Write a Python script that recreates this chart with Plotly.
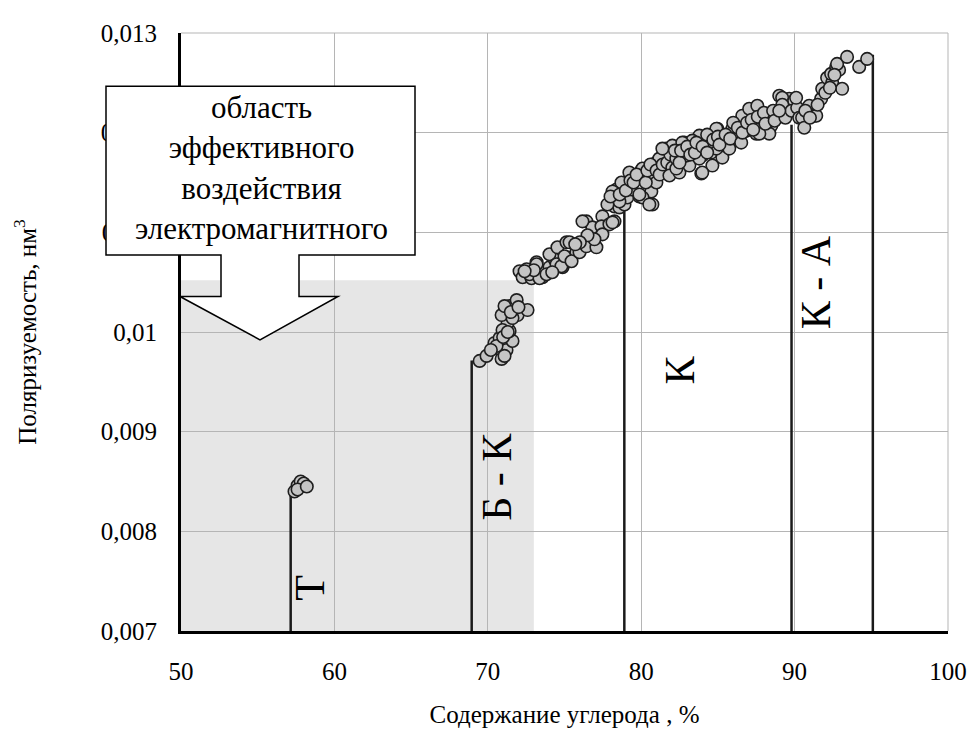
import plotly.graph_objects as go

# ---- data ----
carbon = [
    57.4, 57.6, 57.8, 58.0, 57.6, 58.2,
    69.47, 69.92, 70.44, 70.77, 70.96, 70.90, 71.22, 71.61, 71.42, 71.29, 70.90, 71.94, 72.59, 71.42,
    71.88, 71.09, 71.61, 70.96, 70.57, 71.09, 71.0, 71.3, 70.2, 71.5, 72.0,
    72.07, 72.27, 72.53, 72.85, 73.18, 73.57, 74.02, 74.35, 74.67, 75.13, 72.72, 73.37, 73.83, 74.87,
    73.18, 74.02, 74.48, 74.54, 75.13, 75.33, 75.78, 74.80, 75.00, 75.46, 75.33, 75.98, 76.43, 77.08,
    76.43, 76.82, 77.47, 77.41, 77.93, 78.26, 77.47, 76.95, 78.13, 76.17,
    76.5, 76.0, 75.7, 74.2, 73.0, 72.4,
    78.39, 78.26, 78.58, 78.91, 79.10, 79.88, 80.73, 80.66, 79.36, 80.01, 80.08, 80.86, 80.99, 79.23,
    78.71, 78.13, 78.58, 80.53, 79.88, 80.08, 80.99, 81.51, 81.64, 81.18,
    77.8, 78.0, 78.6, 79.0, 79.3, 79.5, 79.7, 80.3, 80.4, 80.6, 81.0, 81.2, 81.4, 81.7, 81.9,
    82.03, 81.84, 82.49, 82.68, 82.81, 83.33, 83.14, 83.92, 83.98, 84.11, 84.64, 84.57, 84.96, 85.29,
    85.42, 85.94, 86.20, 83.79, 83.33, 84.90, 85.74, 82.94, 82.29, 82.03, 82.68, 84.44, 84.90, 83.79,
    83.98, 82.29, 81.38,
    82.2, 82.5, 82.6, 83.0, 83.2, 83.5, 83.6, 84.0, 84.3, 84.3, 84.7, 85.0, 85.1, 85.5, 85.8,
    86.52, 86.85, 87.50, 87.70, 88.35, 88.48, 88.87, 86.59, 87.04, 87.57, 87.89, 88.35, 89.00, 89.45,
    89.65, 87.70, 89.19, 89.97,
    86.0, 86.3, 86.6, 86.9, 87.2, 87.3, 87.6, 88.0, 88.1, 88.6, 88.7, 89.2, 89.4, 89.8,
    90.17, 90.30, 90.49, 90.63, 90.95, 91.28, 91.41, 91.73, 91.80, 92.12, 92.45, 92.38, 92.71, 92.90,
    92.77, 93.10, 93.42, 94.21, 94.73, 89.00,
    90.1, 90.7, 91.0, 91.5, 92.0, 92.3, 92.6,
]
polarizability = [
    0.00840, 0.00846, 0.00850, 0.00848, 0.00842, 0.00845,
    0.00971, 0.00976, 0.00989, 0.00994, 0.00979, 0.00973, 0.00982, 0.00991, 0.01001, 0.01009, 0.01017, 0.01017, 0.01022, 0.01026,
    0.01032, 0.01026, 0.01014, 0.01002, 0.00986, 0.00976, 0.00995, 0.01000, 0.00982, 0.01020, 0.01025,
    0.01061, 0.01055, 0.01063, 0.01054, 0.01070, 0.01055, 0.01065, 0.01073, 0.01068, 0.01075, 0.01058, 0.01054, 0.01058, 0.01065,
    0.01068, 0.01078, 0.01068, 0.01085, 0.01090, 0.01071, 0.01080, 0.01066, 0.01076, 0.01071, 0.01090, 0.01080, 0.01086, 0.01085,
    0.01111, 0.01105, 0.01116, 0.01106, 0.01108, 0.01111, 0.01098, 0.01093, 0.01110, 0.01111,
    0.01097, 0.01090, 0.01088, 0.01060, 0.01062, 0.01061,
    0.01143, 0.01126, 0.01125, 0.01128, 0.01135, 0.01136, 0.01128, 0.01141, 0.01143, 0.01162, 0.01135, 0.01155, 0.01170, 0.01160,
    0.01150, 0.01141, 0.01131, 0.01128, 0.01138, 0.01164, 0.01150, 0.01175, 0.01184, 0.01174,
    0.01128, 0.01136, 0.01138, 0.01142, 0.01152, 0.01150, 0.01158, 0.01150, 0.01162, 0.01168, 0.01162, 0.01158, 0.01168, 0.01170, 0.01178,
    0.01165, 0.01157, 0.01160, 0.01174, 0.01190, 0.01184, 0.01167, 0.01159, 0.01177, 0.01190, 0.01167, 0.01180, 0.01204, 0.01175,
    0.01190, 0.01204, 0.01194, 0.01197, 0.01192, 0.01184, 0.01184, 0.01177, 0.01174, 0.01187, 0.01190, 0.01190, 0.01204, 0.01174,
    0.01160, 0.01164, 0.01184,
    0.01182, 0.01170, 0.01182, 0.01186, 0.01178, 0.01180, 0.01190, 0.01186, 0.01180, 0.01198, 0.01193, 0.01196, 0.01188, 0.01198, 0.01194,
    0.01190, 0.01202, 0.01199, 0.01209, 0.01200, 0.01207, 0.01215, 0.01217, 0.01224, 0.01227, 0.01214, 0.01199, 0.01237, 0.01224,
    0.01234, 0.01199, 0.01235, 0.01232,
    0.01210, 0.01205, 0.01200, 0.01210, 0.01213, 0.01203, 0.01216, 0.01220, 0.01209, 0.01222, 0.01212, 0.01228, 0.01215, 0.01222,
    0.01225, 0.01215, 0.01215, 0.01205, 0.01227, 0.01217, 0.01217, 0.01234, 0.01244, 0.01255, 0.01250, 0.01259, 0.01266, 0.01263,
    0.01269, 0.01244, 0.01276, 0.01266, 0.01274, 0.01222,
    0.01235, 0.01222, 0.01215, 0.01228, 0.01240, 0.01245, 0.01258,
]

# stage boundaries (vertical lines) and their heights
boundary_x = [57.15, 68.95, 78.9, 89.8, 95.1]
boundary_top = [0.008426, 0.009713, 0.011267, 0.012079, 0.012782]

# stage labels
stage_labels = ["Т", "Б - К", "К", "К - А"]
stage_x = [58.45, 70.55, 82.5, 91.4]
stage_y = [0.00743, 0.00855, 0.00962, 0.01050]

# shaded region of effective action
zone_x = [50, 73]
zone_y = [0.007, 0.01052]

x_ticks = [50, 60, 70, 80, 90, 100]
y_ticks = [0.007, 0.008, 0.009, 0.010, 0.011, 0.012, 0.013]
y_tick_text = ["0,007", "0,008", "0,009", "0,01", "0,011", "0,012", "0,013"]

callout_text = "область<br>эффективного<br>воздействия<br>электромагнитного"

FONT = "Liberation Serif"

fig = go.Figure()

# boundary lines
lx, ly = [], []
for bx, bt in zip(boundary_x, boundary_top):
    lx += [bx, bx, None]
    ly += [0.007, bt, None]
fig.add_trace(go.Scatter(x=lx, y=ly, mode="lines",
                         line=dict(color="#1a1a1a", width=2.5),
                         hoverinfo="skip", showlegend=False))

# data points
fig.add_trace(go.Scatter(x=carbon, y=polarizability, mode="markers",
                         marker=dict(size=12.5, color="#c4c4c4",
                                     line=dict(color="#1e1e1e", width=1.6)),
                         showlegend=False))

# shaded zone
fig.add_shape(type="rect", xref="x", yref="y",
              x0=zone_x[0], x1=zone_x[1], y0=zone_y[0], y1=zone_y[1],
              fillcolor="#e6e6e6", line=dict(width=0), layer="below")

# callout (paper coords; plot area spans 767 x 606 px)
def px(p):
    return (p - 181) / 767.0
def py(p):
    return (631 - p) / 606.0

bl, br, bt_, bb = px(106), px(415), py(79), py(250)
sl, sr, sb = px(221), px(299), py(292)
hl, hr, tx, ty = px(180), px(338), px(260), py(336)
path = (f"M {bl},{bt_} L {br},{bt_} L {br},{bb} L {sr},{bb} L {sr},{sb} "
        f"L {hr},{sb} L {tx},{ty} L {hl},{sb} L {sl},{sb} L {sl},{bb} L {bl},{bb} Z")
fig.add_shape(type="path", xref="paper", yref="paper", path=path,
              fillcolor="white", line=dict(color="black", width=1.5), layer="above")
fig.add_annotation(xref="paper", yref="paper", x=px(261), y=py(162),
                   text=callout_text, showarrow=False,
                   font=dict(family=FONT, size=31, color="black"),
                   align="center", xanchor="center", yanchor="middle")

for t, sx, sy in zip(stage_labels, stage_x, stage_y):
    fig.add_annotation(x=sx, y=sy, xref="x", yref="y", text=t, showarrow=False,
                       textangle=-90, font=dict(family=FONT, size=42, color="black"),
                       xanchor="center", yanchor="middle")

# page body adds an 8 px offset, so margins are shifted accordingly
fig.update_layout(
    width=975, height=736,
    margin=dict(l=173, r=35, t=17, b=113),
    paper_bgcolor="white", plot_bgcolor="white",
    font=dict(family=FONT, color="black"),
    showlegend=False,
    xaxis=dict(range=[50, 100], tickvals=x_ticks, ticktext=[str(v) for v in x_ticks],
               showgrid=True, gridcolor="#b5b5b5", gridwidth=1,
               showline=True, linecolor="black", linewidth=3, zeroline=False,
               ticks="", ticklabelstandoff=16,
               tickfont=dict(family=FONT, size=25, color="black"),
               title=dict(text="Содержание углерода , %", standoff=22,
                          font=dict(family=FONT, size=25, color="black"))),
    yaxis=dict(range=[0.007, 0.013], tickvals=y_ticks, ticktext=y_tick_text,
               showgrid=True, gridcolor="#b5b5b5", gridwidth=1,
               showline=True, linecolor="black", linewidth=3, zeroline=False,
               ticks="", ticklabelstandoff=16,
               tickfont=dict(family=FONT, size=25, color="black"),
               title=dict(text="Поляризуемость, нм<sup>3</sup>", standoff=58,
                          font=dict(family=FONT, size=25, color="black"))),
)
fig.add_shape(type="line", xref="paper", yref="paper", x0=1, x1=1, y0=0, y1=1,
              line=dict(color="#b5b5b5", width=1), layer="below")
fig.add_shape(type="line", xref="paper", yref="paper", x0=0, x1=1, y0=1, y1=1,
              line=dict(color="#b5b5b5", width=1), layer="below")

fig.write_html("out.html")
